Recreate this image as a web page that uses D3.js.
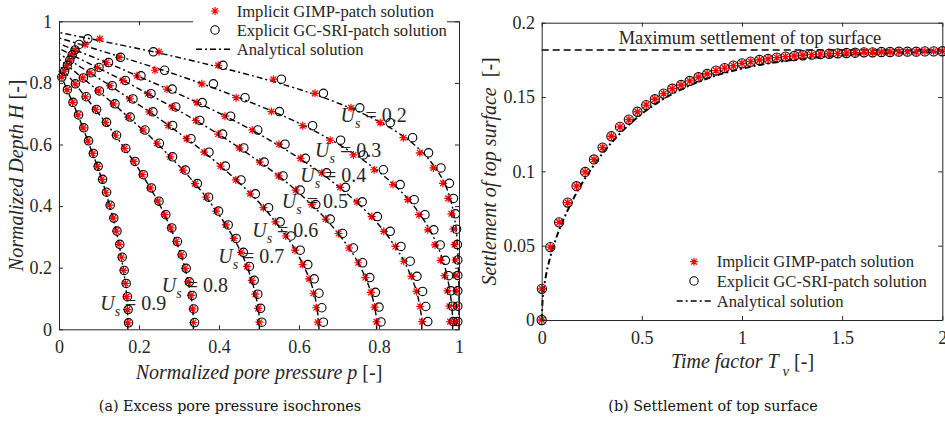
<!DOCTYPE html>
<html><head><meta charset="utf-8">
<script src="https://cdn.jsdelivr.net/npm/d3@7"></script>
<style>
body{margin:0;background:#fff}
svg{display:block}
text{font-family:"Liberation Serif","Times New Roman",serif;fill:#262626;white-space:pre}
text.caption{font-family:"DejaVu Serif",serif;fill:#111}
</style>
</head><body>
<svg id="c" width="945" height="421"></svg>
<script>
// ---------------- tick labels ----------------
const pTicks = [0, 0.2, 0.4, 0.6, 0.8, 1];
const pTickLabels = ["0", "0.2", "0.4", "0.6", "0.8", "1"];
const hTicks = [0, 0.2, 0.4, 0.6, 0.8, 1];
const hTickLabels = ["0", "0.2", "0.4", "0.6", "0.8", "1"];
const tvTicks = [0, 0.5, 1, 1.5, 2];
const tvTickLabels = ["0", "0.5", "1", "1.5", "2"];
const sTicks = [0, 0.05, 0.1, 0.15, 0.2];
const sTickLabels = ["0", "0.05", "0.1", "0.15", "0.2"];

// ---------------- panel (a): isochrones ----------------
const usLevels = ["0.2", "0.3", "0.4", "0.5", "0.6", "0.7", "0.8", "0.9"];
const usLabelP = [0.704, 0.640, 0.603, 0.557, 0.483, 0.398, 0.257, 0.103];
const usLabelH = [0.674, 0.560, 0.479, 0.393, 0.300, 0.214, 0.122, 0.062];
const analyticBottomP = [1.000, 0.984, 0.907, 0.794, 0.650, 0.501, 0.336, 0.172];
const surfaceH = [0.964, 0.946, 0.928, 0.912, 0.895, 0.877, 0.859, 0.840];

const depth02 = [0.025,0.075,0.125,0.175,0.225,0.275,0.325,0.375,0.425,0.474,0.524,0.573,0.622,0.671,0.719,0.766,0.812,0.857,0.901,0.943];
const analytic02 = [1.000,1.000,1.000,0.999,0.998,0.996,0.993,0.987,0.978,0.964,0.941,0.910,0.866,0.805,0.727,0.631,0.515,0.382,0.236,0.079];
const implicit02 = [0.993,0.993,0.993,0.992,0.991,0.989,0.986,0.981,0.973,0.960,0.936,0.902,0.861,0.803,0.730,0.640,0.536,0.398,0.250,0.102];
const explicit02 = [0.997,0.997,0.997,0.997,0.997,0.996,0.994,0.991,0.986,0.976,0.955,0.924,0.884,0.828,0.752,0.661,0.556,0.410,0.236,0.072];

const depth03 = [0.025,0.075,0.125,0.174,0.224,0.274,0.323,0.372,0.421,0.470,0.518,0.566,0.614,0.661,0.707,0.752,0.797,0.841,0.883,0.925];
const analytic03 = [0.984,0.982,0.977,0.970,0.960,0.945,0.927,0.903,0.874,0.837,0.793,0.742,0.681,0.613,0.535,0.450,0.358,0.260,0.158,0.053];
const implicit03 = [0.978,0.976,0.971,0.964,0.954,0.940,0.922,0.900,0.872,0.835,0.788,0.736,0.678,0.609,0.531,0.443,0.357,0.240,0.150,0.065];
const explicit03 = [0.986,0.984,0.980,0.974,0.966,0.953,0.937,0.915,0.888,0.853,0.811,0.761,0.704,0.634,0.551,0.465,0.386,0.264,0.154,0.050];

const depth04 = [0.025,0.074,0.123,0.172,0.221,0.269,0.318,0.366,0.414,0.461,0.508,0.555,0.601,0.647,0.692,0.736,0.780,0.823,0.866,0.907];
const analytic04 = [0.907,0.902,0.894,0.880,0.863,0.840,0.813,0.781,0.743,0.701,0.654,0.601,0.544,0.482,0.416,0.346,0.272,0.196,0.119,0.040];
const implicit04 = [0.908,0.903,0.894,0.881,0.862,0.841,0.812,0.782,0.745,0.703,0.657,0.604,0.550,0.483,0.415,0.345,0.270,0.195,0.118,0.040];
const explicit04 = [0.922,0.917,0.909,0.895,0.878,0.855,0.828,0.796,0.758,0.716,0.669,0.616,0.565,0.497,0.429,0.358,0.283,0.205,0.124,0.040];

const depth05 = [0.024,0.072,0.120,0.168,0.216,0.264,0.311,0.358,0.405,0.452,0.498,0.543,0.589,0.634,0.678,0.722,0.765,0.808,0.850,0.891];
const analytic05 = [0.794,0.789,0.780,0.766,0.748,0.725,0.698,0.667,0.631,0.592,0.549,0.502,0.451,0.398,0.342,0.283,0.222,0.160,0.096,0.032];
const implicit05 = [0.794,0.789,0.780,0.766,0.748,0.725,0.699,0.667,0.632,0.592,0.549,0.502,0.451,0.398,0.342,0.283,0.222,0.160,0.096,0.032];
const explicit05 = [0.805,0.800,0.791,0.777,0.759,0.736,0.709,0.678,0.642,0.603,0.560,0.513,0.462,0.409,0.352,0.292,0.230,0.166,0.100,0.033];

const depth06 = [0.023,0.070,0.117,0.164,0.210,0.257,0.303,0.349,0.395,0.440,0.485,0.530,0.575,0.619,0.662,0.706,0.748,0.791,0.833,0.874];
const analytic06 = [0.649,0.645,0.638,0.626,0.610,0.591,0.568,0.541,0.512,0.479,0.443,0.404,0.363,0.319,0.274,0.226,0.177,0.128,0.077,0.026];
const implicit06 = [0.647,0.643,0.636,0.625,0.609,0.590,0.567,0.541,0.511,0.478,0.442,0.404,0.363,0.319,0.273,0.226,0.177,0.127,0.077,0.026];
const explicit06 = [0.661,0.657,0.650,0.638,0.622,0.603,0.580,0.553,0.524,0.491,0.455,0.416,0.375,0.330,0.284,0.235,0.185,0.133,0.080,0.027];

const depth07 = [0.023,0.068,0.114,0.159,0.204,0.250,0.295,0.339,0.384,0.429,0.473,0.517,0.560,0.604,0.647,0.689,0.732,0.774,0.816,0.857];
const analytic07 = [0.501,0.498,0.491,0.482,0.470,0.455,0.437,0.417,0.393,0.368,0.340,0.310,0.278,0.245,0.210,0.173,0.136,0.098,0.059,0.020];
const implicit07 = [0.501,0.498,0.491,0.482,0.470,0.455,0.437,0.417,0.393,0.368,0.340,0.310,0.278,0.245,0.210,0.173,0.136,0.098,0.059,0.020];
const explicit07 = [0.507,0.504,0.497,0.488,0.476,0.461,0.443,0.423,0.399,0.374,0.346,0.316,0.284,0.251,0.215,0.178,0.140,0.101,0.061,0.021];

const depth08 = [0.022,0.066,0.110,0.154,0.198,0.242,0.285,0.329,0.372,0.416,0.459,0.502,0.545,0.587,0.630,0.672,0.714,0.755,0.797,0.838];
const analytic08 = [0.336,0.334,0.330,0.323,0.315,0.305,0.293,0.279,0.264,0.247,0.228,0.208,0.187,0.164,0.141,0.116,0.091,0.066,0.040,0.013];
const implicit08 = [0.336,0.334,0.330,0.323,0.315,0.305,0.293,0.279,0.264,0.247,0.228,0.208,0.187,0.164,0.141,0.116,0.091,0.066,0.040,0.013];
const explicit08 = [0.339,0.337,0.333,0.326,0.318,0.308,0.296,0.282,0.267,0.250,0.231,0.211,0.190,0.167,0.144,0.119,0.094,0.068,0.041,0.014];

const depth09 = [0.021,0.064,0.106,0.149,0.191,0.234,0.276,0.319,0.361,0.403,0.445,0.487,0.529,0.571,0.612,0.654,0.696,0.737,0.778,0.819];
const analytic09 = [0.172,0.171,0.169,0.166,0.161,0.156,0.150,0.143,0.135,0.126,0.117,0.107,0.096,0.084,0.072,0.060,0.047,0.034,0.020,0.007];
const implicit09 = [0.172,0.171,0.169,0.166,0.161,0.156,0.150,0.143,0.135,0.126,0.117,0.107,0.096,0.084,0.072,0.060,0.047,0.034,0.020,0.007];
const explicit09 = [0.174,0.173,0.171,0.168,0.163,0.158,0.152,0.145,0.137,0.128,0.119,0.109,0.098,0.086,0.074,0.062,0.049,0.035,0.021,0.007];

const depths = [depth02, depth03, depth04, depth05, depth06, depth07, depth08, depth09];
const analytics = [analytic02, analytic03, analytic04, analytic05, analytic06, analytic07, analytic08, analytic09];
const implicits = [implicit02, implicit03, implicit04, implicit05, implicit06, implicit07, implicit08, implicit09];
const explicits = [explicit02, explicit03, explicit04, explicit05, explicit06, explicit07, explicit08, explicit09];

// ---------------- panel (b): settlement ----------------
const tvMarkers = [0,0.001,0.043,0.087,0.130,0.174,0.217,0.261,0.304,0.348,0.391,0.435,0.478,0.522,0.565,0.609,0.652,0.696,0.739,0.783,0.826,0.870,0.913,0.957,1.000,1.043,1.087,1.130,1.174,1.217,1.261,1.304,1.348,1.391,1.435,1.478,1.522,1.565,1.609,1.652,1.696,1.739,1.783,1.826,1.870,1.913,1.957,2.000];
const implicitSettle = [0,0.021,0.049,0.0657,0.079,0.090,0.0996,0.108,0.116,0.1236,0.1299,0.1348,0.1401,0.1446,0.1485,0.1523,0.1556,0.1581,0.1608,0.1633,0.1655,0.1678,0.1695,0.1711,0.1727,0.1738,0.1749,0.1756,0.1765,0.1772,0.1776,0.1781,0.1785,0.1789,0.1791,0.1794,0.1796,0.1798,0.1801,0.1801,0.1803,0.1803,0.1805,0.1805,0.1805,0.1807,0.1807,0.1808];
const explicitSettle = [0,0.021,0.049,0.0657,0.079,0.090,0.0996,0.108,0.116,0.1236,0.1299,0.1348,0.1401,0.1446,0.1485,0.1523,0.1556,0.1581,0.1608,0.1633,0.1655,0.1678,0.1695,0.1711,0.1727,0.1738,0.1749,0.1756,0.1765,0.1772,0.1776,0.1781,0.1785,0.1789,0.1791,0.1794,0.1796,0.1798,0.1801,0.1801,0.1803,0.1803,0.1805,0.1805,0.1805,0.1807,0.1807,0.1808];
const tvAnalytic = [0,0.005,0.01,0.02,0.04,0.06,0.08,0.1,0.15,0.2,0.25,0.3,0.4,0.5,0.6,0.7,0.8,1.0,1.2,1.4,1.6,1.8,2.0];
const settleAnalytic = [0,0.0145,0.0205,0.0290,0.0410,0.0502,0.0580,0.0648,0.0794,0.0917,0.1021,0.1114,0.1267,0.1387,0.1481,0.1554,0.1612,0.1691,0.1740,0.1770,0.1788,0.1799,0.1805];
const maxSettlement = 0.1816;

const legendLabels = ["Implicit GIMP-patch solution", "Explicit GC-SRI-patch solution", "Analytical solution"];

// ---------------- drawing ----------------
const AX = "#262626";
const svg = d3.select("#c");

const xA = d3.scaleLinear().domain([0, 1]).range([59, 459]);
const yA = d3.scaleLinear().domain([0, 1]).range([329.3, 21.3]);
const xB = d3.scaleLinear().domain([0, 2]).range([541.7, 942.3]);
const yB = d3.scaleLinear().domain([0, 0.2]).range([320, 22.7]);

const starPath = r => { const a = r * 0.72; return `M0,${-r}V${r}M${-r},0H${r}M${-a},${-a}L${a},${a}M${-a},${a}L${a},${-a}`; };

function drawAxes(x, y, xt, xl, yt, yl, xLabY, yPad) {
  const [x0, x1] = x.range(), [y0, y1] = y.range();
  const g = svg.append("g");
  const b = g.append("g").attr("transform", `translate(0,${y0})`)
    .call(d3.axisBottom(x).tickValues(xt).tickFormat((d, i) => xl[i]).tickSizeInner(-4).tickSizeOuter(0));
  b.selectAll("text").attr("y", xLabY).attr("dy", null);
  g.append("g").attr("transform", `translate(0,${y1})`)
    .call(d3.axisTop(x).tickValues(xt).tickFormat("").tickSizeInner(-4).tickSizeOuter(0));
  g.append("g").attr("transform", `translate(${x0},0)`)
    .call(d3.axisLeft(y).tickValues(yt).tickFormat((d, i) => yl[i]).tickSizeInner(-4).tickSizeOuter(0).tickPadding(yPad));
  g.append("g").attr("transform", `translate(${x1},0)`)
    .call(d3.axisRight(y).tickValues(yt).tickFormat("").tickSizeInner(-4).tickSizeOuter(0));
  g.selectAll("g").attr("font-family", null).attr("font-size", 18);
  g.selectAll(".domain").attr("stroke", AX).attr("stroke-width", 1);
  g.selectAll(".tick line").attr("stroke", AX).attr("stroke-width", 1);
  g.selectAll(".tick text").attr("fill", AX);
  return g;
}

// ---- panel (a) ----
const lineA = d3.line().x(d => xA(d.p)).y(d => yA(d.h)).curve(d3.curveMonotoneY);
const gA = svg.append("g");
usLevels.forEach((lv, j) => {
  const pts = [{ p: analyticBottomP[j], h: 0 }]
    .concat(depths[j].map((h, i) => ({ p: analytics[j][i], h })))
    .concat([{ p: 0, h: surfaceH[j] }]);
  gA.append("path").attr("d", lineA(pts)).attr("fill", "none").attr("stroke", "#000")
    .attr("stroke-width", 1.4).attr("stroke-dasharray", "6,3,2,3");
});
usLevels.forEach((lv, j) => {
  depths[j].forEach((h, i) => {
    gA.append("path").attr("d", starPath(4)).attr("transform", `translate(${xA(implicits[j][i])},${yA(h)})`)
      .attr("stroke", "#ff0000").attr("stroke-width", 1.2).attr("fill", "none");
  });
});
usLevels.forEach((lv, j) => {
  depths[j].forEach((h, i) => {
    gA.append("circle").attr("cx", xA(explicits[j][i])).attr("cy", yA(h)).attr("r", 4.2)
      .attr("stroke", "#000").attr("stroke-width", 1.1).attr("fill", "none");
  });
});
// Us labels
usLevels.forEach((lv, j) => {
  const t = svg.append("text").attr("x", xA(usLabelP[j])).attr("y", yA(usLabelH[j])).attr("font-size", 20).attr("fill", "#333");
  t.append("tspan").attr("font-style", "italic").text("U");
  t.append("tspan").attr("font-style", "italic").attr("font-size", 14).attr("dy", 6).text("s");
  t.append("tspan").attr("dy", -6).text(" = " + lv);
});
drawAxes(xA, yA, pTicks, pTickLabels, hTicks, hTickLabels, 23.7, 7);

// legend (a)
svg.append("rect").attr("x", 193).attr("y", 0).attr("width", 254).attr("height", 58).attr("fill", "#fff");
function legend(xs, xt, ys, lineX0, lineX1) {
  svg.append("path").attr("d", starPath(4)).attr("transform", `translate(${xs},${ys[0]})`)
    .attr("stroke", "#ff0000").attr("stroke-width", 1.2).attr("fill", "none");
  svg.append("circle").attr("cx", xs).attr("cy", ys[1]).attr("r", 4.2).attr("stroke", "#000").attr("stroke-width", 1.1).attr("fill", "none");
  svg.append("line").attr("x1", lineX0).attr("x2", lineX1).attr("y1", ys[2]).attr("y2", ys[2])
    .attr("stroke", "#000").attr("stroke-width", 1.4).attr("stroke-dasharray", "6,3,2,3");
  legendLabels.forEach((s, i) => {
    svg.append("text").attr("x", xt).attr("y", ys[i] + 5.6).attr("font-size", 16.6).attr("fill", "#1a1a1a").text(s);
  });
}
legend(215, 236.7, [11, 30, 49.3], 196, 233);

// axis labels (a)
{
  const t = svg.append("text").attr("x", 259).attr("y", 378.5).attr("text-anchor", "middle").attr("font-size", 20);
  t.append("tspan").attr("font-style", "italic").text("Normalized pore pressure p");
  t.append("tspan").text(" [-]");
  const t2 = svg.append("text").attr("transform", "translate(23,175.3) rotate(-90)").attr("text-anchor", "middle").attr("font-size", 20);
  t2.append("tspan").attr("font-style", "italic").text("Normalized Depth H");
  t2.append("tspan").text(" [-]");
}

// ---- panel (b) ----
const gB = svg.append("g");
gB.append("line").attr("x1", xB(0)).attr("x2", xB(2)).attr("y1", yB(maxSettlement)).attr("y2", yB(maxSettlement))
  .attr("stroke", "#000").attr("stroke-width", 1.4).attr("stroke-dasharray", "7,4");
svg.append("text").attr("x", 750).attr("y", 43.5).attr("text-anchor", "middle").attr("font-size", 18.4).attr("fill", "#1a1a1a")
  .text("Maximum settlement of top surface");
const lineB = d3.line().x((d, i) => xB(tvAnalytic[i])).y(d => yB(d)).curve(d3.curveMonotoneX);
gB.append("path").attr("d", lineB(settleAnalytic)).attr("fill", "none").attr("stroke", "#000")
  .attr("stroke-width", 2).attr("stroke-dasharray", "6,3,2,3");
tvMarkers.forEach((tv, i) => {
  gB.append("circle").attr("cx", xB(tv)).attr("cy", yB(explicitSettle[i])).attr("r", 4.6)
    .attr("stroke", "#000").attr("stroke-width", 1.1).attr("fill", "none");
  gB.append("path").attr("d", starPath(4.2)).attr("transform", `translate(${xB(tv)},${yB(implicitSettle[i])})`)
    .attr("stroke", "#ff0000").attr("stroke-width", 1.3).attr("fill", "none");
});
drawAxes(xB, yB, tvTicks, tvTickLabels, sTicks, sTickLabels, 24, 6.7);
legend(694, 716.7, [261.7, 281, 301], 676.7, 713);

{
  const t = svg.append("text").attr("x", 742.5).attr("y", 368).attr("text-anchor", "middle").attr("font-size", 20);
  t.append("tspan").attr("font-style", "italic").text("Time factor T");
  t.append("tspan").attr("font-style", "italic").attr("font-size", 15).attr("dy", 8).text(" v");
  t.append("tspan").attr("dy", -8).text(" [-]");
  const t2 = svg.append("text").attr("transform", "translate(496,171.4) rotate(-90)").attr("text-anchor", "middle").attr("font-size", 20);
  t2.append("tspan").attr("font-style", "italic").text("Settlement of top surface");
  t2.append("tspan").text("  [-]");
}

// captions
svg.append("text").attr("class", "caption").attr("x", 230).attr("y", 411).attr("text-anchor", "middle").attr("font-size", 14.3)
  .text("(a) Excess pore pressure isochrones");
svg.append("text").attr("class", "caption").attr("x", 713).attr("y", 411).attr("text-anchor", "middle").attr("font-size", 14.3)
  .text("(b) Settlement of top surface");
</script>
</body></html>
